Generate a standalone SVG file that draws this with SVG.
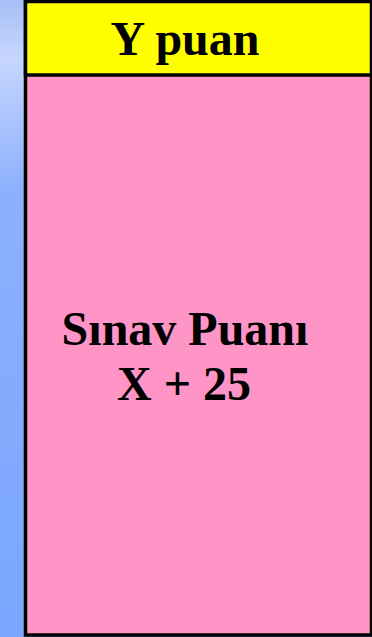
<svg xmlns="http://www.w3.org/2000/svg" width="372" height="637" viewBox="0 0 372 637">
  <defs>
    <linearGradient id="strip" x1="0" y1="0" x2="0" y2="1">
      <stop offset="0" stop-color="#a6bff5"/>
      <stop offset="0.09" stop-color="#c6d6ff"/>
      <stop offset="0.3" stop-color="#8cb0fc"/>
      <stop offset="1" stop-color="#7aa6ff"/>
    </linearGradient>
    <style>
      .t { font-family: "Liberation Serif", "Times New Roman", serif; font-weight: bold; font-size: 48px; fill: #000; text-anchor: middle; }
    </style>
  </defs>
  <rect x="0" y="0" width="372" height="637" fill="url(#strip)"/>
  <g id="body">
    <rect x="25.5" y="1.5" width="346" height="633.5" fill="#ff94c6" stroke="#000" stroke-width="3.5"/>
    <text class="t" x="185" y="345">Sınav Puanı</text>
    <text class="t" x="184" y="400">X + 25</text>
  </g>
  <g id="header">
    <rect x="25.5" y="1.5" width="346" height="73.5" fill="#ffff00" stroke="#000" stroke-width="3.5"/>
    <text class="t" x="185" y="55">Y puan</text>
  </g>
  <g id="connectors"/>
</svg>
